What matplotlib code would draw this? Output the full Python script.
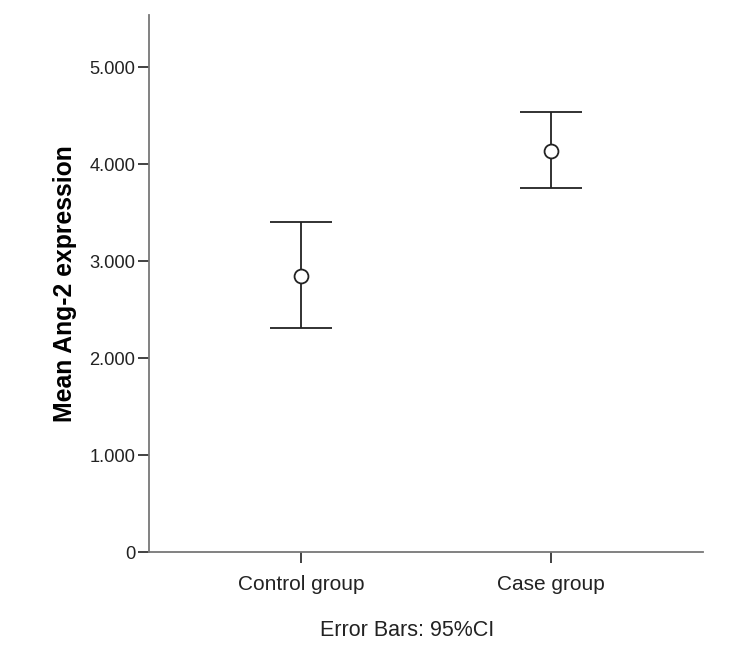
import matplotlib
matplotlib.use("Agg")
import matplotlib.pyplot as plt
import numpy as np

categories = ["Control group", "Case group"]
means = [2.85, 4.14]
ci_lower = [2.31, 3.75]
ci_upper = [3.40, 4.54]
yticks = [0, 1, 2, 3, 4, 5]
yticklabels = ["0", "1.000", "2.000", "3.000", "4.000", "5.000"]

plt.rcParams['font.family'] = ['Liberation Sans', 'DejaVu Sans']

fig = plt.figure(figsize=(7.52, 6.58), dpi=100)
ax = fig.add_axes([0.198, 0.1606, 0.737, 0.8164])

x = np.arange(len(categories))
m = np.array(means)
yerr = np.array([m - np.array(ci_lower), np.array(ci_upper) - m])
ax.errorbar(x, m, yerr=yerr, fmt='o', mfc='white', mec='#222222', ms=10, mew=1.3,
            ecolor='#222222', elinewidth=1.3, capsize=22.3, capthick=1.5, color='#222222')

ax.set_xlim(-0.61, 1.61)
ax.set_ylim(0, 5.536)
ax.set_xticks(x)
ax.set_xticklabels(categories, fontsize=15, color='#222222')
ax.set_yticks(yticks)
ax.set_yticklabels(yticklabels, fontsize=13.2, color='#222222')
ax.tick_params(axis='both', direction='out', length=8, width=1.3, color='#333333', pad=2)
ax.tick_params(axis='x', pad=8)
for s in ['top', 'right']:
    ax.spines[s].set_visible(False)
for s in ['left', 'bottom']:
    ax.spines[s].set_color('#777777')
    ax.spines[s].set_linewidth(1.3)

ax.set_ylabel("Mean Ang-2 expression", fontsize=17.8, fontweight='bold', labelpad=9)
fig.text(0.541, 0.0425, "Error Bars: 95%CI", ha='center', va='center', fontsize=15.5, color='#222222')

fig.savefig("out.png", dpi=100)
